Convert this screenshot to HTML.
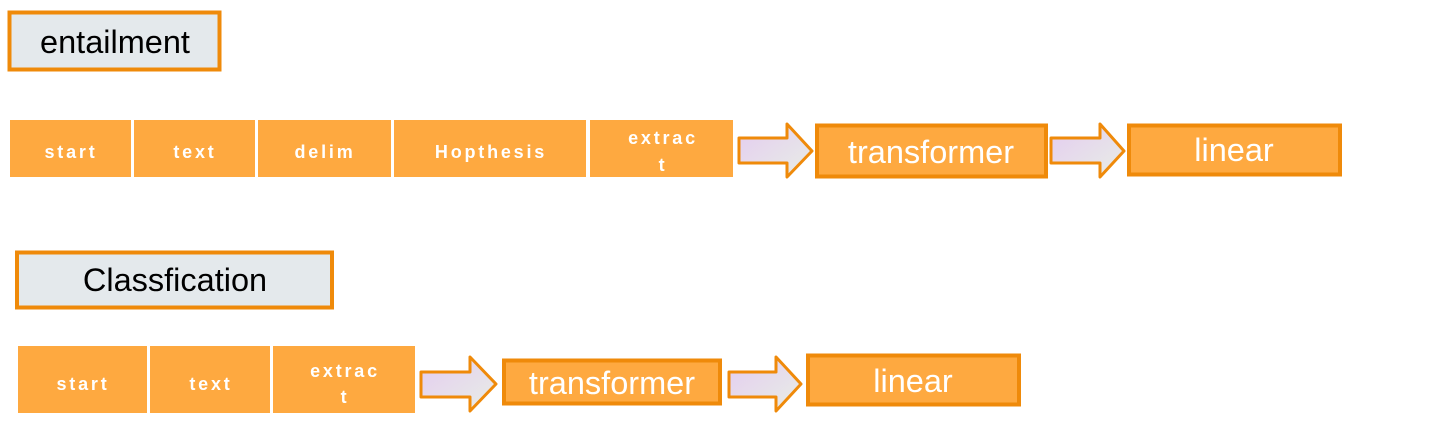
<!DOCTYPE html>
<html><head><meta charset="utf-8"><style>
html,body{margin:0;padding:0;background:#fff;width:1435px;height:431px;overflow:hidden}
svg text{font-family:"Liberation Sans",sans-serif}
.c{fill:#fff;font-weight:bold;font-size:18px;letter-spacing:2.8px}
.b{fill:#fff;font-size:32.5px}
.l{fill:#000;font-size:32.5px}
</style></head><body>
<svg width="1435" height="431" viewBox="0 0 1435 431" xmlns="http://www.w3.org/2000/svg">
<defs><linearGradient id="g" x1="0" y1="0" x2="1" y2="1"><stop offset="0" stop-color="#e4ccf0"/><stop offset="1" stop-color="#e8eee6"/></linearGradient></defs>
<rect x="9.5" y="12.5" width="210" height="57" fill="#e4e9ec" stroke="#ef8a0a" stroke-width="4"/>
<text x="115" y="53" text-anchor="middle" class="l">entailment</text>
<rect x="17" y="252.5" width="315" height="55" fill="#e4e9ec" stroke="#ef8a0a" stroke-width="4"/>
<text x="175" y="291" text-anchor="middle" class="l">Classfication</text>
<g fill="#fea940">
<rect x="10" y="120" width="121" height="57"/>
<rect x="134" y="120" width="121" height="57"/>
<rect x="258" y="120" width="133" height="57"/>
<rect x="394" y="120" width="192" height="57"/>
<rect x="590" y="120" width="143" height="57"/>
<rect x="18" y="346" width="129" height="67"/>
<rect x="150" y="346" width="120" height="67"/>
<rect x="273" y="346" width="142" height="67"/>
</g>
<text x="71" y="158" text-anchor="middle" class="c">start</text>
<text x="195" y="158" text-anchor="middle" class="c">text</text>
<text x="325" y="158" text-anchor="middle" class="c">delim</text>
<text x="491" y="158" text-anchor="middle" class="c">Hopthesis</text>
<text x="663" y="144" text-anchor="middle" class="c">extrac</text>
<text x="663" y="171" text-anchor="middle" class="c">t</text>
<text x="83" y="390" text-anchor="middle" class="c">start</text>
<text x="211" y="390" text-anchor="middle" class="c">text</text>
<text x="345" y="377" text-anchor="middle" class="c">extrac</text>
<text x="345" y="403" text-anchor="middle" class="c">t</text>
<g fill="url(#g)" stroke="#ef8a0a" stroke-width="3" stroke-linejoin="round">
<polygon points="739,138 787,138 787,124 812,151 787,177 787,163 739,163"/>
<polygon points="1051,138 1100,138 1100,124 1124,151 1100,177 1100,163 1051,163"/>
<polygon points="421,372 470,372 470,357 496,384 470,411 470,397 421,397"/>
<polygon points="729,372 776,372 776,357 801,384 776,411 776,397 729,397"/>
</g>
<g fill="#fea940" stroke="#ef8a0a" stroke-width="4">
<rect x="817" y="125.5" width="229" height="51"/>
<rect x="1129" y="125.5" width="211" height="49"/>
<rect x="504" y="360.5" width="216" height="43"/>
<rect x="808" y="355.5" width="211" height="49"/>
</g>
<text x="931" y="163" text-anchor="middle" class="b">transformer</text>
<text x="1234" y="161" text-anchor="middle" class="b">linear</text>
<text x="612" y="394" text-anchor="middle" class="b">transformer</text>
<text x="913" y="392" text-anchor="middle" class="b">linear</text>
</svg>
</body></html>
